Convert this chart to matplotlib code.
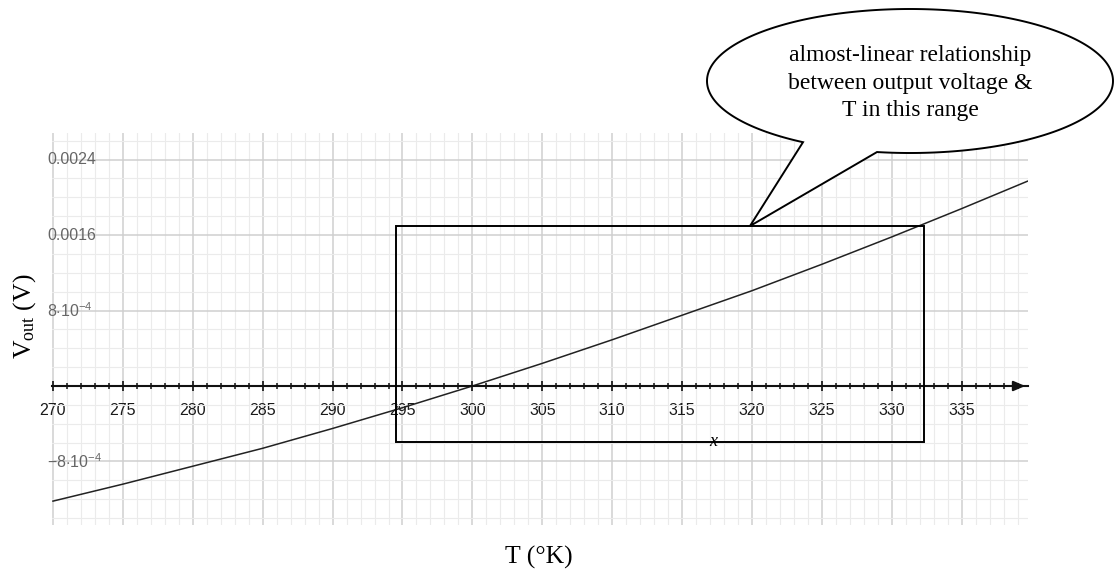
import numpy as np
import matplotlib
matplotlib.use("Agg")
import matplotlib.pyplot as plt
from matplotlib.patches import Rectangle, Polygon
from matplotlib.ticker import MultipleLocator
import matplotlib.transforms as mtransforms

plt.rcParams["mathtext.fontset"] = "custom"
plt.rcParams["mathtext.rm"] = "Liberation Serif"
plt.rcParams["mathtext.it"] = "Liberation Serif:italic"
plt.rcParams["mathtext.sf"] = "Liberation Sans"

# curve
temps = [270, 275, 280, 285, 290, 295, 300, 305, 310, 315, 320, 325, 330, 335, 339.7]
vout = [-0.00122, -0.00104, -0.00085, -0.00066, -0.00045, -0.00023, 0.0,
        0.00024, 0.00049, 0.00075, 0.00101, 0.00129, 0.00158, 0.00188, 0.00217]

x_ticks = [270, 275, 280, 285, 290, 295, 300, 305, 310, 315, 320, 325, 330, 335]
y_label_vals = [-0.0008, 0.0008, 0.0016, 0.0024]
y_label_txt = [r"$\mathsf{-8{\cdot}10^{-4}}$", r"$\mathsf{8{\cdot}10^{-4}}$", "0.0016", "0.0024"]

# highlighted range (T from, T to, V from, V to)
box_t = (294.5, 332.3)
box_v = (-0.00059, 0.0017)

callout = "almost-linear relationship\nbetween output voltage &\nT in this range"

fig = plt.figure(figsize=(11.14, 5.77), dpi=100)
ax = fig.add_axes([52 / 1114, 1 - 525 / 577, 976 / 1114, 392 / 577])

ax.set_xlim(269.93, 339.74)
ax.set_ylim(-0.001473, 0.002681)

ax.xaxis.set_major_locator(MultipleLocator(5))
ax.xaxis.set_minor_locator(MultipleLocator(1))
ax.yaxis.set_major_locator(MultipleLocator(0.0008))
ax.yaxis.set_minor_locator(MultipleLocator(0.0002))
ax.set_axisbelow(True)
ax.grid(which="minor", color="#ebebeb", lw=0.8)
ax.grid(which="major", color="#cfcfcf", lw=1.1)

for s in ["top", "right", "left"]:
    ax.spines[s].set_visible(False)
ax.spines["bottom"].set_position(("data", 0))
ax.spines["bottom"].set_linewidth(1.5)
ax.spines["bottom"].set_color("#111111")

ax.set_xticks(x_ticks)
ax.tick_params(axis="x", which="major", direction="inout", length=7, width=1.2,
               pad=8.5, labelsize=11.5, labelcolor="#1a1a1a", color="#111111")
ax.tick_params(axis="x", which="minor", direction="inout", length=4.5, width=1.1,
               color="#111111")
for lab in ax.get_xticklabels():
    lab.set_fontfamily("Liberation Sans")
ax.tick_params(axis="y", which="both", length=0, labelleft=False)

ax.annotate("", xy=(339.74, 0), xytext=(339.0, 0), annotation_clip=False,
            arrowprops=dict(arrowstyle="-|>,head_length=0.7,head_width=0.3",
                            color="#111111", lw=1.5))

trans = mtransforms.blended_transform_factory(ax.transAxes, ax.transData)
for v, t in zip(y_label_vals, y_label_txt):
    ax.text(-0.005, v, t, transform=trans, ha="left", va="center",
            fontsize=11.5, color="#666666", family="Liberation Sans")

ax.plot(temps, vout, color="#222222", lw=1.1)

ax.add_patch(Rectangle((box_t[0], box_v[0]), box_t[1] - box_t[0], box_v[1] - box_v[0],
                       fill=False, ec="black", lw=1.4, zorder=4))
ax.text(317.2, box_v[0], "x", ha="center", va="center", fontsize=13,
        style="italic", family="Liberation Serif", zorder=5)

# callout bubble in pixel space
ov = fig.add_axes([0, 0, 1, 1], zorder=10)
ov.set_xlim(0, 1114)
ov.set_ylim(577, 0)
ov.axis("off")
ov.patch.set_alpha(0)

cx, cy, a, b = 910, 81, 203, 72
th1 = np.arccos((803 - cx) / a)
th2 = np.arccos((877 - cx) / a)
th = np.linspace(th2, th1 - 2 * np.pi, 300)
pts = np.column_stack([cx + a * np.cos(th), cy + b * np.sin(th)])
pts = np.vstack([pts, [750, 226]])
ov.add_patch(Polygon(pts, closed=True, fc="white", ec="black", lw=1.4))
ov.text(cx, cy + 2, callout, ha="center", va="center", fontsize=17,
        family="Liberation Serif", linespacing=1.4)

fig.text(539 / 1114, 1 - 557 / 577, "T (°K)", ha="center", va="center",
         fontsize=18.5, family="Liberation Serif")
fig.text(25 / 1114, 1 - 316 / 577, r"V$_{\mathrm{out}}$ (V)", ha="center",
         va="center", rotation=90, fontsize=18.5, family="Liberation Serif")

fig.savefig("out.png", dpi=100)
